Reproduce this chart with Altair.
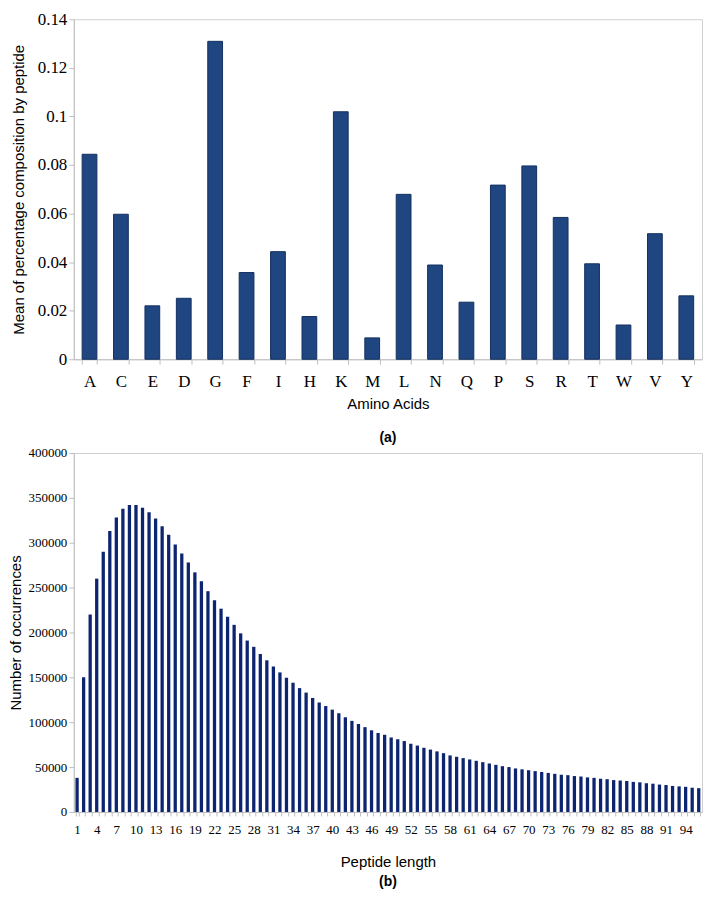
import altair as alt
import pandas as pd

amino = ["A", "C", "E", "D", "G", "F", "I", "H", "K", "M",
         "L", "N", "Q", "P", "S", "R", "T", "W", "V", "Y"]
composition = [0.0844, 0.0597, 0.0220, 0.0251, 0.1309, 0.0357, 0.0443, 0.0176, 0.1019, 0.0088,
               0.0679, 0.0388, 0.0235, 0.0717, 0.0796, 0.0584, 0.0393, 0.0141, 0.0517, 0.0261]

lengths = list(range(1, 97))
occurrences = [
    38000, 150000, 220000, 260000, 290000, 313000, 328000, 338000, 342000, 342000,
    339000, 334000, 327000, 318500, 309000, 298000, 288000, 278000, 267000, 257000,
    246000, 236000, 226500, 217500, 208500, 199000, 191000, 184000, 176000, 169000,
    162000, 155500, 149500, 144000, 138000, 133000, 127000, 122000, 118000, 114000,
    110000, 105500, 101500, 98000, 94500, 91000, 88000, 86000, 83000, 81000,
    79000, 76000, 74000, 71500, 69500, 67500, 65500, 63000, 61500, 60000,
    58500, 57000, 55500, 54000, 52500, 51000, 50000, 48500, 47500, 46500,
    45500, 44500, 43500, 42500, 41500, 41000, 40000, 39500, 38500, 38000,
    37000, 36500, 35500, 35000, 34500, 33500, 33000, 32000, 31500, 30500,
    30000, 29000, 28500, 28000, 27000, 26500,
]

y_ticks_a = [0, 0.02, 0.04, 0.06, 0.08, 0.1, 0.12, 0.14]
y_ticks_b = [0, 50000, 100000, 150000, 200000, 250000, 300000, 350000, 400000]

df_a = pd.DataFrame({"aa": amino, "value": composition})
df_b = pd.DataFrame({"len": lengths, "count": occurrences})

SERIF = "Liberation Serif"
SANS = "Liberation Sans"
GREY = "#bfbfbf"

top = alt.Chart(df_a).mark_bar(color="#1f4681", stroke="#13305e", strokeWidth=1).encode(
    x=alt.X("aa:N", sort=amino,
            scale=alt.Scale(paddingInner=0.53, paddingOuter=0.265),
            axis=alt.Axis(title="Amino Acids", labelAngle=0, labelFont=SERIF, labelFontSize=17,
                          labelColor="black", titleFont=SANS, titleFontSize=15,
                          titleFontWeight="normal", titleColor="black", titlePadding=7,
                          domainColor=GREY, tickColor=GREY, tickBand="extent", tickSize=5,
                          labelPadding=9)),
    y=alt.Y("value:Q", scale=alt.Scale(domain=[0, 0.14], nice=False),
            axis=alt.Axis(title="Mean of percentage composition by peptide", values=y_ticks_a,
                          format="~g", grid=False, labelFont=SERIF, labelFontSize=17,
                          labelColor="black", titleFont=SANS, titleFontSize=15,
                          titleFontWeight="normal", titleColor="black", titlePadding=11,
                          domainColor=GREY, tickColor=GREY, tickSize=5, labelPadding=2)),
).properties(
    width=630, height=341,
    title=alt.TitleParams("(a)", orient="bottom", font=SANS, fontSize=14, fontWeight="bold",
                          color="black", offset=20),
)

bottom = alt.Chart(df_b).mark_bar(color="#0d2470").encode(
    x=alt.X("len:O", scale=alt.Scale(paddingInner=0.5, paddingOuter=0.25),
            axis=alt.Axis(title="Peptide length", labelAngle=0, labelFont=SERIF, labelFontSize=13,
                          labelColor="black", labelOverlap=False,
                          labelExpr="(datum.value - 1) % 3 == 0 ? datum.label : ''",
                          titleFont=SANS, titleFontSize=15, titleFontWeight="normal",
                          titleColor="black", titlePadding=18,
                          domainColor=GREY, tickColor=GREY, tickBand="extent", tickSize=4,
                          labelPadding=8)),
    y=alt.Y("count:Q", scale=alt.Scale(domain=[0, 400000], nice=False),
            axis=alt.Axis(title="Number of occurrences", values=y_ticks_b, format="d",
                          grid=False, labelFont=SERIF, labelFontSize=13, labelColor="black",
                          titleFont=SANS, titleFontSize=15, titleFontWeight="normal",
                          titleColor="black", titlePadding=4,
                          domainColor=GREY, tickColor=GREY, tickSize=5, labelPadding=2)),
).properties(
    width=630, height=360,
    title=alt.TitleParams("(b)", orient="bottom", font=SANS, fontSize=14, fontWeight="bold",
                          color="black", offset=5),
)

chart = alt.concat(top, bottom, columns=1, spacing=0).resolve_scale(
    x="independent"
).configure_view(stroke="#d0d0d0").properties(
    background="white",
    padding={"left": 0, "top": 0, "right": 0, "bottom": 0},
)

chart.save("out.html", embed_options={"renderer": "svg", "actions": False})
